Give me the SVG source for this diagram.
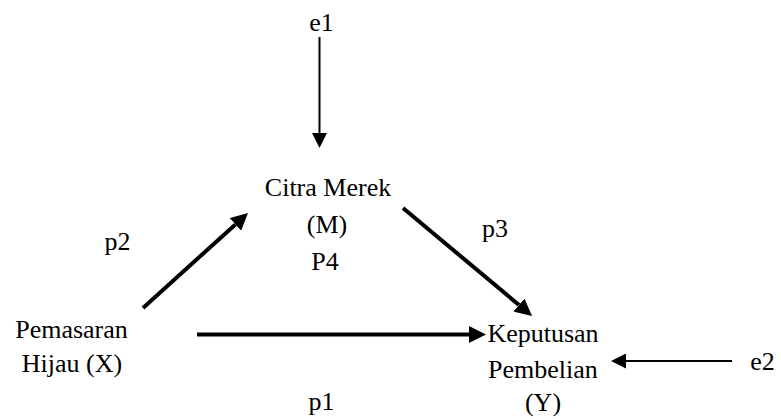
<svg xmlns="http://www.w3.org/2000/svg" width="781" height="419" viewBox="0 0 781 419" font-family="'Liberation Serif', 'Times New Roman', Tinos, serif">
  <style>
    text { font-family: "Liberation Serif", "Times New Roman", Tinos, serif; font-size: 26px; fill: #000; }
    .mid { text-anchor: middle; }
    .thin { stroke: #000; stroke-width: 2; fill: none; }
    .thick { stroke: #000; stroke-width: 4; fill: none; }
    .thin-head { marker-end: url(#head-thin); }
    .thick-head { marker-end: url(#head-thick); }
  </style>
  <defs>
    <marker id="head-thin" markerUnits="userSpaceOnUse" markerWidth="15" markerHeight="15" refX="0" refY="7.5" orient="auto">
      <path d="M0,0 L15,7.5 L0,15 Z" fill="#000"/>
    </marker>
    <marker id="head-thick" markerUnits="userSpaceOnUse" markerWidth="18" markerHeight="17" refX="0" refY="8.5" orient="auto">
      <path d="M0,0 L17,8.5 L0,17 Z" fill="#000"/>
    </marker>
  </defs>

  <rect width="781" height="419" fill="#fff"/>

  <!-- error term e1 -->
  <g id="e1">
    <text class="mid" x="321.5" y="31">e1</text>
  </g>

  <!-- mediator: Citra Merek (M) -->
  <g id="citra-merek">
    <text class="mid" x="328" y="196">Citra Merek</text>
    <text class="mid" x="327" y="233">(M)</text>
  </g>

  <!-- independent variable: Pemasaran Hijau (X) -->
  <g id="pemasaran-hijau">
    <text class="mid" x="71.5" y="338">Pemasaran</text>
    <text class="mid" x="72" y="372">Hijau (X)</text>
  </g>

  <!-- dependent variable: Keputusan Pembelian (Y) -->
  <g id="keputusan-pembelian">
    <text class="mid" x="543" y="342">Keputusan</text>
    <text class="mid" x="543" y="378">Pembelian</text>
    <text class="mid" x="543" y="411">(Y)</text>
  </g>

  <!-- error term e2 -->
  <g id="e2">
    <text class="mid" x="762.5" y="370">e2</text>
  </g>

  <!-- paths -->
  <g id="connectors">
    <line class="thin thin-head" x1="319.5" y1="37" x2="319.5" y2="133"/>
    <line class="thin thin-head" x1="732" y1="361" x2="626" y2="361"/>
    <line class="thick thick-head" x1="197" y1="334.5" x2="469" y2="334.5"/>
    <line class="thick thick-head" x1="143" y1="308" x2="235.4" y2="224.4"/>
    <line class="thick thick-head" x1="403" y1="208" x2="519" y2="305"/>
  </g>

  <!-- path coefficients -->
  <g id="labels">
    <text class="mid" x="117.5" y="250">p2</text>
    <text class="mid" x="495" y="237">p3</text>
    <text class="mid" x="321.5" y="410">p1</text>
    <text class="mid" x="325" y="270">P4</text>
  </g>
</svg>
